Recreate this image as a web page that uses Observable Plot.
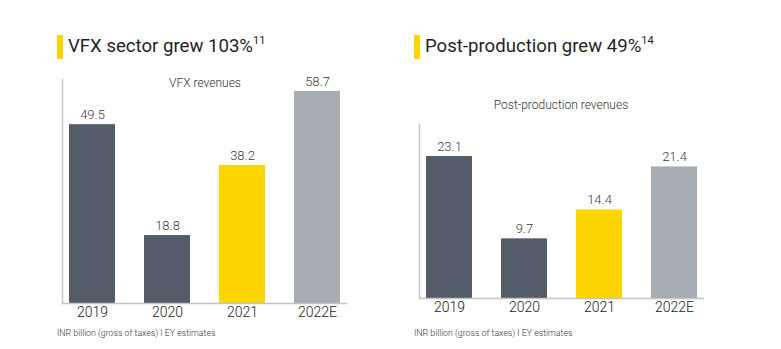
<!DOCTYPE html>
<html>
<head>
<meta charset="utf-8">
<script src="https://cdn.jsdelivr.net/npm/d3@7"></script>
<script src="https://cdn.jsdelivr.net/npm/@observablehq/plot@0.6"></script>
<style>
  html, body { margin: 0; padding: 0; background: #fff; }
  body { width: 781px; height: 349px; position: relative; overflow: hidden; font-family: Roboto, "Liberation Sans", sans-serif; color: #2e2e38; }
  .abs { position: absolute; }
  .title { font-size: 18.6px; line-height: 24px; white-space: nowrap; color: #1f1f27; }
  .title sup { font-size: 11px; vertical-align: 0; position: relative; top: -8px; }
  .accent { width: 6px; height: 24px; background: #ffd500; }
  .sub { font-size: 12px; white-space: nowrap; transform: translate(-50%, -50%); color: #333; font-weight: 300; }
  .foot { font-size: 8.8px; white-space: nowrap; color: #333; transform: translateY(-50%); font-weight: 300; }
  .plot svg { overflow: visible; }
</style>
</head>
<body>
<div class="abs accent" style="left:57px;top:35px"></div>
<div class="abs title" style="left:68px;top:34px">VFX sector grew 103%<sup>11</sup></div>
<div class="abs accent" style="left:414px;top:35px"></div>
<div class="abs title" style="left:425px;top:34px">Post-production grew 49%<sup>14</sup></div>

<div id="left" class="abs plot" style="left:0;top:0"></div>
<div id="right" class="abs plot" style="left:357px;top:0"></div>

<div class="abs sub" style="left:205px;top:83px">VFX revenues</div>
<div class="abs sub" style="left:561px;top:105px">Post-production revenues</div>

<div class="abs foot" style="left:57px;top:333px">INR billion (gross of taxes) I EY estimates</div>
<div class="abs foot" style="left:414px;top:333px">INR billion (gross of taxes) I EY estimates</div>

<script>
const years = ["2019", "2020", "2021", "2022E"];
const vfxValues = [49.5, 18.8, 38.2, 58.7];
const postValues = [23.1, 9.7, 14.4, 21.4];
const barColors = ["#535c68", "#535c68", "#ffd500", "#a6acb2"];

function panel(values, opts) {
  const data = years.map((y, i) => ({year: y, value: values[i], color: barColors[i]}));
  return Plot.plot({
    width: 390,
    height: opts.height,
    marginLeft: 62,
    marginRight: 43,
    marginTop: opts.marginTop,
    marginBottom: 22,
    style: {fontFamily: "Roboto, 'Liberation Sans', sans-serif", background: "transparent"},
    x: {domain: years, paddingInner: 0.387, paddingOuter: 0.09, axis: null},
    y: {domain: [0, opts.yMax], axis: null},
    marks: [
      Plot.barY(data, {x: "year", y: "value", fill: "color"}),
      Plot.ruleY([0], {stroke: "#c4c4c4", strokeWidth: 1.5}),
      Plot.frame({anchor: "left", stroke: "#c4c4c4", strokeWidth: 1.5}),
      Plot.text(data, {x: "year", y: "value", text: d => d.value.toFixed(1), dy: -10, fontSize: 13, fontWeight: 300, fill: "#3a3a3a"}),
      Plot.axisX({tickSize: 0, tickPadding: 4, fontSize: 14, fontWeight: 300, color: "#222", label: null})
    ]
  });
}

document.getElementById("left").append(panel(vfxValues, {height: 325, marginTop: 79, yMax: 62}));
document.getElementById("right").append(panel(postValues, {height: 320, marginTop: 124, yMax: 28.3}));
</script>
</body>
</html>
